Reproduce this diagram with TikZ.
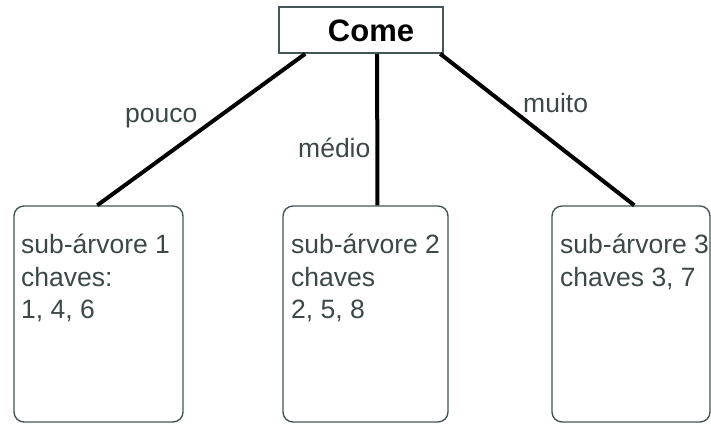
\documentclass[tikz,border=0pt]{standalone}
\usepackage{fontspec}
\setmainfont{Liberation Sans}
\begin{document}
\begin{tikzpicture}[x=1pt,y=-1pt,
  txt/.style={text=txtcol,font=\fontsize{26.5}{32}\selectfont,inner sep=0pt,anchor=base west},
  subbox/.style={draw=boxcol,line width=1.4pt,rounded corners=10pt,minimum height=216pt,inner sep=0pt},
  edge/.style={line width=4pt,draw=black}]
\definecolor{txtcol}{RGB}{60,72,72}
\definecolor{boxcol}{RGB}{70,85,85}
\useasboundingbox (0,0) rectangle (711,423);
% root
\node[draw=boxcol,line width=1.6pt,minimum width=164pt,minimum height=46pt,inner sep=0pt] (come) at (361,30) {};
\node[font=\bfseries\fontsize{31}{36}\selectfont,inner sep=0pt] (cometxt) at (371,31) {Come};
% subtrees
\node[subbox,minimum width=169pt] (b1) at (98.5,314) {};
\node[subbox,minimum width=165pt] (b2) at (365.5,314) {};
\node[subbox,minimum width=158pt] (b3) at (631,314) {};
% edges
\draw[edge] ([xshift=27pt]come.south west) -- ([xshift=84pt]b1.north west);
\draw[edge] ([xshift=99pt]come.south west) -- ([xshift=95pt]b2.north west);
\draw[edge] ([xshift=162pt]come.south west) -- ([xshift=83pt]b3.north west);
% edge labels
\node[txt] (l1) at (125,122) {pouco};
\node[txt] (l2) at (298,157) {médio};
\node[txt] (l3) at (523,112) {muito};
% box texts
\node[txt] (t11) at (21,253) {sub-árvore 1};
\node[txt] (t12) at (21,286) {chaves:};
\node[txt] (t13) at (21,318) {1, 4, 6};
\node[txt] (t21) at (291,253) {sub-árvore 2};
\node[txt] (t22) at (291,286) {chaves};
\node[txt] (t23) at (291,318) {2, 5, 8};
\node[txt] (t31) at (560,253) {sub-árvore 3};
\node[txt] (t32) at (560,286) {chaves 3, 7};
\end{tikzpicture}
\end{document}
